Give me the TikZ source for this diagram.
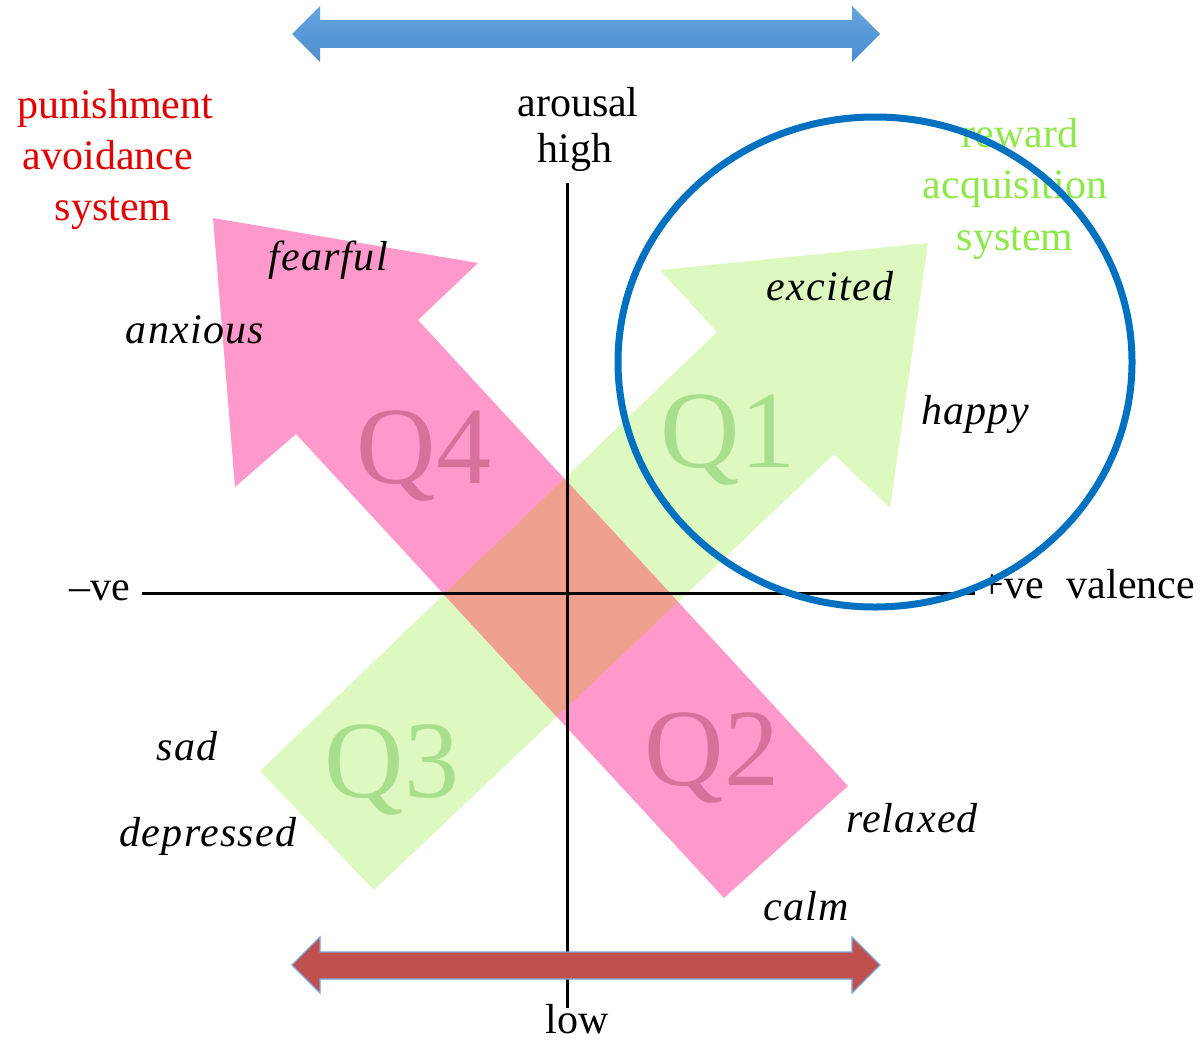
\documentclass[tikz,border=0pt]{standalone}
\usepackage{fontspec}
\setmainfont{Liberation Serif}
\newfontfamily\emofont[LetterSpace=3]{Liberation Serif}
\definecolor{pinkA}{HTML}{FF99CC}
\definecolor{greenA}{HTML}{DDF9BF}
\definecolor{salmon}{HTML}{F0A08E}
\definecolor{qpink}{HTML}{D8709C}
\definecolor{qgreen}{HTML}{A8DE8E}
\definecolor{redT}{HTML}{E00000}
\definecolor{greenT}{HTML}{8FE84A}
\definecolor{circ}{HTML}{0070C0}
\definecolor{blueTop}{HTML}{66A4DE}
\definecolor{blueBot}{HTML}{4A8DCF}
\definecolor{redArr}{HTML}{C0504D}
\definecolor{edgeBlue}{HTML}{7AA6DA}
\begin{document}
\begin{tikzpicture}[x=1pt,y=-1pt,
  txt/.style={inner sep=0pt,anchor=base,font=\fontsize{42}{50}\selectfont},
  emo/.style={inner sep=0pt,anchor=base,font=\fontsize{42}{50}\emofont\itshape},
  qlab/.style={inner sep=0pt,anchor=base,font=\fontsize{110}{120}\selectfont},
  axis/.style={line width=3pt,black}]
\useasboundingbox (0,0) rectangle (1201,1041);
% arrows (green and pink) with overlap
\def\greenpath{(928,243) -- (890,508) -- (834,454) -- (374,890) -- (260,771) -- (717,332) -- (660,270) -- cycle}
\def\pinkpath{(213,218) -- (478,263) -- (418,320) -- (848,786) -- (724,898) -- (296,434) -- (235,487) -- cycle}
\fill[greenA] \greenpath;
\fill[pinkA] \pinkpath;
\begin{scope}
  \clip \greenpath;
  \fill[salmon] \pinkpath;
\end{scope}
% Q labels
\node[qlab,text=qpink] (q4) at (424,483) {Q4};
\node[qlab,text=qpink] (q2) at (712,785) {Q2};
\node[qlab,text=qgreen] (q1) at (728,467) {Q1};
\node[qlab,text=qgreen] (q3) at (392,797) {Q3};
% axes
\coordinate (vtop) at (567,183);
\coordinate (vbot) at (567,1008);
\coordinate (hleft) at (142,593);
\coordinate (hright) at (975,593);
\draw[axis] (vtop) -- (vbot);
\draw[axis] (hleft) -- (hright);
% top double arrow
\shade[top color=blueTop,bottom color=blueBot]
  (292,34) -- (320,6) -- (320,20) -- (852,20) -- (852,6) -- (880,34) -- (852,62) -- (852,48) -- (320,48) -- (320,62) -- cycle;
% bottom double arrow
\filldraw[fill=redArr,draw=edgeBlue,line width=1.2pt]
  (292,965) -- (320,937) -- (320,952) -- (852,952) -- (852,937) -- (880,965) -- (852,993) -- (852,979) -- (320,979) -- (320,993) -- cycle;
% axis labels
\node[txt] (arousal) at (578,116) {arousal};
\node[txt] (high) at (575,162) {high};
\node[txt] (low) at (577,1033) {low};
\node[txt] (neg) at (100,600) {–ve};
\node[txt] (pos) at (1012,598) {+ve};
\node[txt] (val) at (1131,598) {valence};
% systems
\node[txt,text=redT] (pun1) at (115,118) {punishment};
\node[txt,text=redT] (pun2) at (108,169) {avoidance};
\node[txt,text=redT] (pun3) at (113,220) {system};
\node[txt,text=greenT] (rew1) at (1020,147) {reward};
\node[txt,text=greenT] (rew2) at (1015,198) {acquisition};
\node[txt,text=greenT] (rew3) at (1015,250) {system};
% emotions
\node[emo] (fearful) at (328,270) {fearful};
\node[emo] (anxious) at (195,343) {anxious};
\node[emo] (excited) at (830,300) {excited};
\node[emo] (happy) at (975,424) {happy};
\node[emo] (sad) at (187,760) {sad};
\node[emo] (depressed) at (208,846) {depressed};
\node[emo] (relaxed) at (912,832) {relaxed};
\node[emo] (calm) at (806,920) {calm};
% circle
\draw[circ,line width=7pt] (875,362) ellipse [x radius=257,y radius=245];
\end{tikzpicture}
\end{document}
